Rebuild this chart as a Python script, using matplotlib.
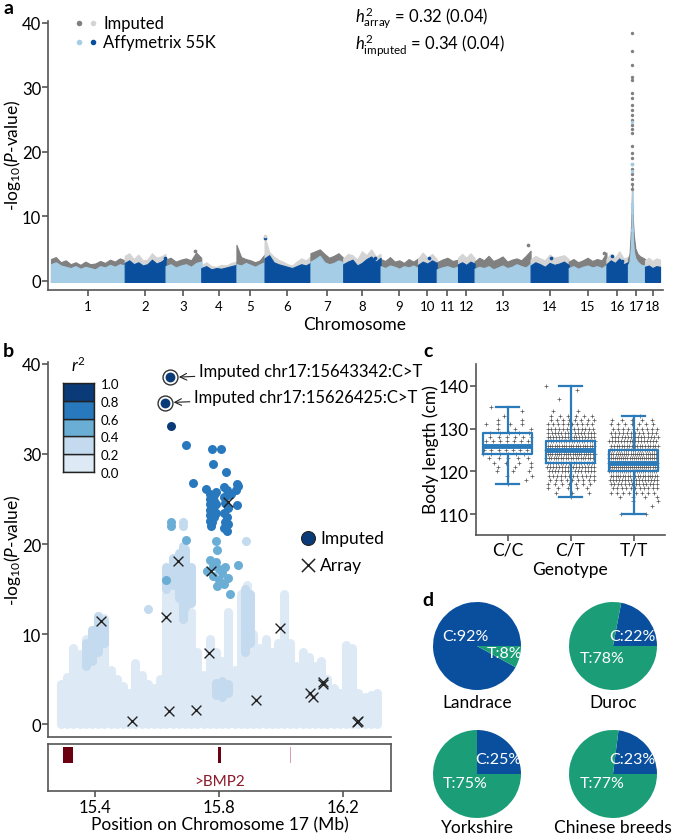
import numpy as np
import matplotlib.pyplot as plt
from matplotlib.patches import Rectangle

plt.rcParams['font.family'] = ['Lato', 'DejaVu Sans']
plt.rcParams['mathtext.fontset'] = 'custom'
plt.rcParams['mathtext.rm'] = 'Lato'
plt.rcParams['mathtext.it'] = 'Lato:italic'
plt.rcParams['mathtext.bf'] = 'Lato:bold'

W, H = 673, 837

# ---------------- panel a: genome-wide Manhattan ----------------
chrom_names = [str(i) for i in range(1, 19)]
chrom_len = [274.3, 151.9, 132.8, 130.9, 104.5, 170.8, 121.8, 139.0, 139.5,
             69.4, 79.2, 61.6, 208.3, 141.8, 140.4, 79.9, 63.5, 56.0]

# upper envelope of -log10(P) along each chromosome
array_env = [
    [2.6, 2.9, 2.4, 2.2, 2.0, 2.3, 1.9, 2.2, 2.0, 1.8, 2.3, 2.1, 2.5, 2.2, 2.6, 2.4],
    [2.8, 3.2, 2.6, 2.9, 2.4, 2.6, 3.3, 2.7, 3.0, 3.5],
    [2.3, 2.6, 2.1, 2.4, 2.6, 2.2, 2.8, 3.0],
    [2.0, 2.3, 1.8, 2.0, 1.9, 2.1, 2.3, 2.5],
    [2.6, 2.4, 2.8, 2.5, 2.2, 2.6, 2.9],
    [3.5, 4.0, 2.9, 2.6, 2.4, 2.2, 2.0, 2.3, 2.6, 2.4, 2.8],
    [3.0, 3.4, 3.9, 2.9, 2.6, 2.8, 3.2, 2.9],
    [2.6, 3.0, 3.3, 2.4, 2.8, 3.4, 3.8, 3.0, 3.6],
    [2.3, 2.0, 2.4, 2.2, 1.9, 2.3, 2.1, 2.4, 2.0],
    [2.5, 3.0, 2.7, 3.2, 2.8],
    [1.8, 2.1, 2.3, 2.0, 2.2],
    [2.6, 2.9, 2.5, 3.0, 2.7],
    [1.9, 2.2, 2.0, 2.3, 1.8, 2.1, 2.4, 2.0, 2.2, 2.6, 2.3, 2.1, 2.7],
    [2.4, 2.9, 2.6, 2.2, 2.8, 2.5, 2.7, 3.0, 2.5],
    [2.0, 2.3, 1.9, 2.2, 2.4, 2.1, 2.3, 2.0, 2.5],
    [2.6, 3.2, 2.8, 3.5, 2.6, 2.9],
    None,
    [2.2, 2.4, 2.0, 2.3, 2.2],
]
imputed_env = [
    [3.4, 3.7, 2.9, 3.2, 2.6, 2.9, 2.5, 3.0, 2.6, 2.7, 3.1, 2.8, 3.3, 3.0, 3.5, 3.2],
    [3.9, 4.3, 3.4, 4.1, 3.2, 3.3, 4.3, 3.6, 3.8, 4.2],
    [3.3, 3.6, 3.0, 3.3, 3.5, 3.2, 4.4, 3.6],
    [2.4, 2.9, 2.3, 2.2, 2.5, 2.4, 2.8, 3.0],
    [5.6, 3.7, 3.4, 3.2, 2.9, 3.2, 4.1],
    [7.0, 4.5, 3.8, 3.3, 3.0, 2.6, 2.4, 3.0, 3.5, 3.2, 3.8],
    [4.3, 4.6, 4.9, 4.2, 3.6, 3.9, 4.3, 3.6],
    [3.5, 4.2, 4.0, 3.3, 4.6, 4.0, 4.9, 3.8, 4.2],
    [3.4, 3.1, 3.7, 3.0, 3.2, 2.8, 3.4, 3.0, 3.5],
    [3.5, 4.4, 3.6, 4.2, 3.4],
    [2.9, 3.3, 3.6, 3.1, 3.3],
    [3.6, 4.2, 3.6, 4.3, 3.6],
    [3.0, 3.6, 3.2, 3.9, 3.1, 3.4, 3.8, 3.0, 3.3, 3.5, 3.2, 3.9, 4.7],
    [3.3, 3.9, 3.5, 3.2, 4.1, 3.6, 3.8, 4.0, 3.4],
    [3.0, 3.4, 2.9, 3.2, 3.6, 3.1, 3.4, 3.2, 4.4],
    [3.4, 4.2, 3.6, 4.6, 3.5, 3.7],
    None,
    [3.2, 3.6, 3.1, 3.5, 3.3],
]
# chromosome 17 around the BMP2 peak
chr17_pos = [0, 6, 10, 13, 14.6, 15.6, 16.6, 18.5, 22, 28, 36, 46, 56, 63.5]
chr17_arr = [2.5, 3.0, 4.5, 7.0, 11.0, 14.0, 10.0, 6.5, 4.5, 3.5, 3.0, 2.6, 2.4, 2.5]
chr17_imp = [3.4, 4.2, 7.0, 10.0, 13.0, 15.0, 12.0, 9.5, 7.0, 5.0, 4.2, 3.8, 3.6, 3.4]
peak_imp_pos = [15.64, 15.63, 15.62, 15.6, 15.61, 15.63, 15.6, 15.62, 15.64, 15.6,
                15.62, 15.61, 15.63, 15.6, 15.62, 15.64, 15.6, 15.61, 15.63, 15.6,
                15.62, 15.6, 15.61]
peak_imp_p = [38.5, 35.7, 33.5, 31.6, 31.1, 29.2, 28.4, 27.3, 26.5, 25.8, 25.0, 24.2,
              23.5, 23.0, 20.9, 19.8, 19.0, 18.2, 17.4, 16.6, 15.8, 15.0, 14.2]
# isolated dots elsewhere: chromosome, position (Mb), -log10 P, source
dot_chrom = [6, 6, 3, 13, 14, 15, 16, 16, 2, 8, 10]
dot_pos = [3.0, 2.5, 109, 199, 76, 131, 21, 58, 150, 120, 40]
dot_p = [6.6, 7.0, 4.6, 5.5, 3.6, 4.4, 3.8, 3.1, 3.6, 3.5, 3.5]
dot_src = ['arr', 'imp', 'imp', 'imp', 'arr', 'imp', 'arr', 'arr', 'arr', 'arr', 'arr']

# ---------------- panel b: regional plot ----------------
r2_breaks = [0.0, 0.2, 0.4, 0.6, 0.8, 1.0]
r2_colors = ['#dde9f5', '#c4daee', '#6aaed6', '#2878be', '#0b3a78']

# dense low-LD cloud: position (Mb) and top of the column of points
cloud_pos = [15.29, 15.31, 15.33, 15.35, 15.37, 15.39, 15.41, 15.43, 15.45, 15.47,
             15.49, 15.51, 15.53, 15.55, 15.57, 15.59, 15.61, 15.63, 15.65, 15.67,
             15.69, 15.71, 15.73, 15.75, 15.77, 15.79, 15.81, 15.83, 15.85, 15.87,
             15.89, 15.91, 15.93, 15.95, 15.97, 15.99, 16.01, 16.03, 16.05, 16.07,
             16.09, 16.11, 16.13, 16.15, 16.17, 16.19, 16.21, 16.23, 16.25, 16.27,
             16.29, 16.31]
cloud_top = [4.5, 5.2, 8.5, 7.8, 9.5, 10.5, 12.0, 11.8, 6.0, 5.0,
             4.2, 3.5, 6.8, 5.5, 4.5, 4.0, 5.0, 14.5, 15.0, 15.5,
             14.0, 12.5, 8.0, 5.5, 9.5, 8.0, 7.0, 12.5, 6.0, 14.5,
             15.4, 10.0, 8.5, 9.5, 8.0, 9.0, 14.5, 9.0, 6.5, 8.0,
             7.5, 6.5, 7.0, 5.0, 4.0, 3.5, 8.8, 8.5, 3.5, 3.0,
             3.2, 3.5]
# r2 0.2-0.4 clusters: position, bottom, top
mid_pos = [15.37, 15.39, 15.41, 15.43, 15.63, 15.65, 15.67, 15.685, 15.69, 15.71,
           15.79, 15.81, 15.83, 15.885, 15.9]
mid_lo = [6.5, 7.0, 8.0, 9.0, 15.0, 15.5, 14.0, 11.7, 13.0, 13.5, 3.2, 3.0, 3.4, 8.0, 9.0]
mid_hi = [9.0, 10.5, 12.0, 11.5, 17.5, 18.5, 19.0, 19.8, 19.5, 17.5, 4.6, 4.8, 4.4, 15.0, 14.5]
mid_pt_pos = [15.683, 15.683, 15.887, 15.57]
mid_pt_p = [22.5, 22.0, 20.3, 12.8]
# r2 0.4-0.6
ld4_pos = [15.644, 15.644, 15.693, 15.79, 15.795, 15.86, 15.77, 15.78, 15.79, 15.80,
           15.81, 15.82, 15.76, 15.78, 15.80, 15.83, 15.795, 15.815, 15.835, 15.629]
ld4_p = [22.5, 22.0, 20.4, 20.3, 19.3, 17.7, 18.2, 17.6, 18.0, 17.2,
         16.8, 17.5, 17.0, 16.4, 16.0, 16.2, 15.3, 15.6, 14.5, 16.0]
# r2 0.6-0.8
ld6_pos = [15.693, 15.778, 15.807, 15.781, 15.821, 15.716, 15.757, 15.857, 15.86, 15.855,
           15.858, 15.84, 15.772, 15.772, 15.772, 15.772, 15.772, 15.772, 15.775, 15.785,
           15.785, 15.785, 15.785, 15.785, 15.79, 15.79, 15.79, 15.778, 15.815, 15.825,
           15.83, 15.815, 15.82, 15.83, 15.815, 15.825, 15.82, 15.83, 15.815, 15.825]
ld6_p = [31.0, 30.5, 30.6, 28.9, 28.0, 26.8, 26.1, 26.7, 26.4, 26.0,
         24.3, 25.6, 25.6, 25.0, 24.4, 23.8, 23.2, 22.6, 22.0, 25.4,
         24.8, 24.2, 23.6, 23.0, 25.8, 24.5, 23.4, 22.5, 26.3, 26.0,
         25.5, 25.2, 24.6, 24.0, 23.5, 23.0, 22.5, 22.2, 21.8, 21.5]
# r2 0.8-1.0
ld8_pos = [15.644]
ld8_p = [33.1]
top_snp_pos = [15.643342, 15.626425]
top_snp_p = [38.5, 35.7]
top_snp_names = ['Imputed chr17:15643342:C>T', 'Imputed chr17:15626425:C>T']
# array SNPs
array_pos = [15.828, 15.667, 15.774, 15.628, 15.419, 15.997, 15.768, 16.137, 16.134,
             15.518, 15.64, 15.726, 15.919, 16.094, 16.102, 16.244, 16.247]
array_p = [24.7, 18.1, 17.0, 11.9, 11.5, 10.7, 7.85, 4.7, 4.5,
           0.3, 1.4, 1.55, 2.7, 3.5, 3.0, 0.2, 0.3]
# genes in the window (start, end in Mb)
gene_start = [15.296, 15.797, 16.028]
gene_end = [15.329, 15.807, 16.031]

# ---------------- panel c: body length by genotype ----------------
genotypes = ['C/C', 'C/T', 'T/T']
box_q1 = [124, 122, 120]
box_med = [126, 125, 122]
box_q3 = [129, 127, 125]
box_lo = [117, 114, 110]
box_hi = [135, 140, 133]
len_cc = list(range(117, 136))
cnt_cc = [1, 1, 2, 3, 3, 4, 5, 6, 7, 9, 7, 6, 5, 3, 4, 2, 1, 1, 1]
len_ct = [114, 115, 116, 117, 118, 119, 120, 121, 122, 123, 124, 125, 126, 127, 128,
          129, 130, 131, 132, 133, 134, 137, 139, 140]
cnt_ct = [1, 3, 5, 7, 9, 12, 15, 17, 19, 20, 22, 22, 21, 19, 17,
          15, 13, 10, 8, 6, 2, 1, 1, 1]
len_tt = [110, 112, 113, 114, 115, 116, 117, 118, 119, 120, 121, 122, 123, 124, 125,
          126, 127, 128, 129, 130, 131, 132, 133]
cnt_tt = [2, 1, 2, 4, 8, 11, 14, 17, 20, 23, 24, 25, 24, 23, 21,
          19, 17, 15, 12, 10, 7, 5, 1]

# ---------------- panel d: allele frequencies ----------------
breeds = ['Landrace', 'Duroc', 'Yorkshire', 'Chinese breeds']
freq_c = [92, 22, 25, 23]
freq_t = [8, 78, 75, 77]

BLUE_D = '#0a4f9e'
BLUE_L = '#a6cde6'
GRAY_D = '#808080'
GRAY_L = '#d4d4d4'
SPINE = '#555555'


def rect(l, t, r, b):
    return [l / W, 1 - b / H, (r - l) / W, (b - t) / H]


def ftext(px, py, s, **kw):
    fig.text(px / W, 1 - py / H, s, **kw)


fig = plt.figure(figsize=(W / 100, H / 100), dpi=100)

# ===== a =====
ax = fig.add_axes(rect(48, 22, 663, 291))
offsets = np.concatenate([[0], np.cumsum(chrom_len)[:-1]])
for i in range(18):
    odd = (i % 2 == 0)
    c_arr = BLUE_L if odd else BLUE_D
    c_imp = GRAY_D if odd else GRAY_L
    if i == 16:
        xs = np.array(chr17_pos) + offsets[i]
        ia, ii = chr17_arr, chr17_imp
    else:
        xs = np.linspace(0, chrom_len[i], len(array_env[i])) + offsets[i]
        ia, ii = array_env[i], imputed_env[i]
    ax.fill_between(xs, -0.15, ii, color=c_imp, lw=0.8, edgecolor=c_imp, zorder=1)
    ax.fill_between(xs, -0.15, ia, color=c_arr, lw=0.8, edgecolor=c_arr, zorder=2)
for c, p, v, s in zip(dot_chrom, dot_pos, dot_p, dot_src):
    odd = (c % 2 == 1)
    col = (BLUE_L if odd else BLUE_D) if s == 'arr' else (GRAY_D if odd else GRAY_L)
    ax.scatter(offsets[c - 1] + p, v, s=7, color=col, lw=0, zorder=3)
ax.scatter(offsets[16] + np.array(peak_imp_pos), peak_imp_p, s=6, color=GRAY_D, lw=0, zorder=3)
ax.scatter(offsets[16] + np.array(array_pos), array_p, s=6, color=BLUE_L, lw=0, zorder=4)

ax.set_xlim(-11, sum(chrom_len) + 11)
ax.set_ylim(-1.4, 40.3)
ax.set_yticks([0, 10, 20, 30, 40])
ax.set_xticks(offsets + np.array(chrom_len) / 2)
ax.set_xticklabels(chrom_names, fontsize=9.5)
ax.tick_params(axis='y', labelsize=12, length=4, color=SPINE, width=1.2, pad=1)
ax.tick_params(axis='x', length=4, color=SPINE, width=1.2, pad=3)
for sp in ['top', 'right']:
    ax.spines[sp].set_visible(False)
for sp in ['left', 'bottom']:
    ax.spines[sp].set_color(SPINE)
    ax.spines[sp].set_linewidth(1.2)

ftext(355, 325, 'Chromosome', fontsize=12.5, ha='center', va='center')
ftext(13, 155, r'-log$_{10}$($\mathit{P}$-value)', fontsize=12.5, rotation=90,
      ha='center', va='center')
ftext(8, 9, 'a', fontsize=14, fontweight='bold', ha='center', va='center')
# legend
for (px, py, col) in [(79, 24, GRAY_D), (93, 24, GRAY_L), (79, 43, BLUE_L), (93, 43, BLUE_D)]:
    fig.add_artist(plt.Line2D([px / W], [1 - py / H], marker='o', ms=4, color=col,
                              mew=0, transform=fig.transFigure))
ftext(103, 24, 'Imputed', fontsize=12, va='center')
ftext(103, 43, 'Affymetrix 55K', fontsize=12, va='center')
ftext(355, 18, r'$h^2_{\mathrm{array}}$ = 0.32 (0.04)', fontsize=12, va='center')
ftext(355, 46, r'$h^2_{\mathrm{imputed}}$ = 0.34 (0.04)', fontsize=12, va='center')

# ===== b =====
bx = fig.add_axes(rect(48, 363, 391, 738))
cloud = bx.vlines(cloud_pos, 0, cloud_top, color=r2_colors[0], lw=6.5, zorder=1)
cloud.set_capstyle('round')
mid = bx.vlines(mid_pos, mid_lo, mid_hi, color=r2_colors[1], lw=6.5, zorder=2)
mid.set_capstyle('round')
bx.scatter(mid_pt_pos, mid_pt_p, s=42, color=r2_colors[1], lw=0, zorder=2)
bx.scatter(ld4_pos, ld4_p, s=42, color=r2_colors[2], lw=0, zorder=3)
bx.scatter(ld6_pos, ld6_p, s=42, color=r2_colors[3], lw=0, zorder=4)
bx.scatter(ld8_pos, ld8_p, s=42, color=r2_colors[4], lw=0, zorder=5)
bx.scatter(top_snp_pos, top_snp_p, s=115, facecolor='white', edgecolor='#333333',
           lw=1.0, zorder=6)
bx.scatter(top_snp_pos, top_snp_p, s=50, color=r2_colors[4], lw=0, zorder=7)
bx.scatter(array_pos, array_p, s=50, marker='x', color='#222222', lw=1.0, zorder=8)
text_xy = [(15.735, 39.2), (15.719, 36.3)]
for name, xp, yp, (tx, ty) in zip(top_snp_names, top_snp_pos, top_snp_p, text_xy):
    bx.annotate(name, xy=(xp, yp), xytext=(tx, ty), fontsize=12, va='center', ha='left',
                arrowprops=dict(arrowstyle='->', color='#222222', lw=0.8,
                                shrinkA=1, shrinkB=6), zorder=9)
bx.set_xlim(15.248, 16.355)
bx.set_ylim(-1.44, 40.22)
bx.set_yticks([0, 10, 20, 30, 40])
bx.set_xticks([])
bx.tick_params(axis='y', labelsize=12, length=4, color=SPINE, width=1.2, pad=1)
for sp in ['top', 'right']:
    bx.spines[sp].set_visible(False)
for sp in ['left', 'bottom']:
    bx.spines[sp].set_color(SPINE)
    bx.spines[sp].set_linewidth(1.2)
# legend
bx.scatter([0.758], [0.531], s=100, color=r2_colors[4], edgecolor='#222222', lw=0.8,
           transform=bx.transAxes, clip_on=False, zorder=10)
bx.scatter([0.758], [0.459], s=90, marker='x', color='#222222', lw=1.1,
           transform=bx.transAxes, clip_on=False, zorder=10)
ftext(320, 539, 'Imputed', fontsize=12.5, va='center')
ftext(320, 566, 'Array', fontsize=12.5, va='center')

# r2 colour key
kx = fig.add_axes(rect(63, 384, 94, 473))
for j in range(5):
    kx.bar(0.5, 0.2, bottom=r2_breaks[j], width=1, color=r2_colors[j],
           edgecolor='#222222', lw=1.0)
kx.set_xlim(0, 1)
kx.set_ylim(0, 1)
kx.set_xticks([])
kx.set_yticks(r2_breaks)
kx.set_yticklabels([f'{b:.1f}' for b in r2_breaks], fontsize=9.5)
kx.yaxis.tick_right()
kx.tick_params(axis='y', length=0, pad=5)
for sp in kx.spines.values():
    sp.set_color('#222222')
    sp.set_linewidth(1.0)
ftext(78, 365, r'$\mathit{r}^2$', fontsize=12, ha='center', va='center')
ftext(8, 352, 'b', fontsize=14, fontweight='bold', ha='center', va='center')
ftext(13, 550, r'-log$_{10}$($\mathit{P}$-value)', fontsize=12.5, rotation=90,
      ha='center', va='center')

# gene track
gx = fig.add_axes(rect(48, 745, 391, 792))
for s0, s1, col, in zip(gene_start, gene_end, ['#6b0010', '#6b0010', '#d9a0aa']):
    gx.add_patch(Rectangle((s0, 0.6), s1 - s0, 0.34, color=col, lw=0))
gx.text((gene_start[1] + gene_end[1]) / 2, 0.22, '>BMP2', color='#8b1a2b', fontsize=11,
        ha='center', va='center')
gx.set_xlim(15.248, 16.355)
gx.set_ylim(0, 1)
gx.set_yticks([])
gx.set_xticks([15.4, 15.8, 16.2])
gx.set_xticklabels(['15.4', '15.8', '16.2'], fontsize=12)
gx.tick_params(axis='x', length=4, color=SPINE, width=1.2, pad=2)
for sp in gx.spines.values():
    sp.set_color(SPINE)
    sp.set_linewidth(1.2)
ftext(220, 825, 'Position on Chromosome 17 (Mb)', fontsize=12.5, ha='center', va='center')

# ===== c =====
cx = fig.add_axes(rect(476, 365, 665, 536))
for g, (lens, cnts) in enumerate([(len_cc, cnt_cc), (len_ct, cnt_ct), (len_tt, cnt_tt)]):
    for k, (v, n) in enumerate(zip(lens, cnts)):
        frac = ((np.arange(n) + 0.5) / n + 0.37 * k) % 1.0
        cx.plot(g + (frac - 0.5) * 0.78, np.full(n, v), ls='none', marker='+', ms=2.6,
                mew=0.5, color='#555555', zorder=1)
stats = [dict(med=m, q1=a, q3=b, whislo=lo, whishi=hi, fliers=[])
         for m, a, b, lo, hi in zip(box_med, box_q1, box_q3, box_lo, box_hi)]
BOXC = '#2b7bba'
cx.bxp(stats, positions=[0, 1, 2], widths=0.79, capwidths=0.35, showfliers=False,
       boxprops=dict(color=BOXC, lw=1.6), medianprops=dict(color=BOXC, lw=3.5),
       whiskerprops=dict(color=BOXC, lw=1.6), capprops=dict(color=BOXC, lw=1.6),
       manage_ticks=False, zorder=3)
cx.set_xlim(-0.5, 2.5)
cx.set_ylim(105.1, 145.1)
cx.set_xticks([0, 1, 2])
cx.set_xticklabels(genotypes, fontsize=12.5)
cx.set_yticks([110, 120, 130, 140])
cx.tick_params(axis='both', labelsize=12.5, length=4, color=SPINE, width=1.2, pad=1)
for sp in ['top', 'right']:
    cx.spines[sp].set_visible(False)
for sp in ['left', 'bottom']:
    cx.spines[sp].set_color(SPINE)
    cx.spines[sp].set_linewidth(1.2)
ftext(570, 570, 'Genotype', fontsize=12.5, ha='center', va='center')
ftext(431, 450, 'Body length (cm)', fontsize=12.5, rotation=90, ha='center', va='center')
ftext(428, 352, 'c', fontsize=14, fontweight='bold', ha='center', va='center')

# ===== d =====
GREEN = '#1b9e77'
centers = [(477, 647), (613, 647), (477, 775), (613, 775)]
label_y = [703, 703, 828, 828]
c_off = [(-0.27, 0.22), (0.44, 0.22), (0.49, 0.33), (0.44, 0.33)]
t_off = [(0.62, -0.16), (-0.24, -0.27), (-0.27, -0.2), (-0.24, -0.2)]
for name, fc, ft, (px, py), ly, co, to in zip(breeds, freq_c, freq_t, centers, label_y,
                                               c_off, t_off):
    px_ax = fig.add_axes(rect(px - 44, py - 44, px + 44, py + 44))
    px_ax.pie([fc, ft], colors=[BLUE_D, GREEN], startangle=0, counterclock=True,
              radius=1, wedgeprops=dict(linewidth=0))
    px_ax.set_xlim(-1, 1)
    px_ax.set_ylim(-1, 1)
    px_ax.set_aspect('equal')
    px_ax.axis('off')
    px_ax.text(co[0], co[1], f'C:{fc}%', color='white', fontsize=11.5, ha='center', va='center')
    px_ax.text(to[0], to[1], f'T:{ft}%', color='white', fontsize=11.5, ha='center', va='center')
    ftext(px, ly, name, fontsize=12.5, ha='center', va='center')
ftext(428, 601, 'd', fontsize=14, fontweight='bold', ha='center', va='center')

fig.savefig('out.png', dpi=100)
